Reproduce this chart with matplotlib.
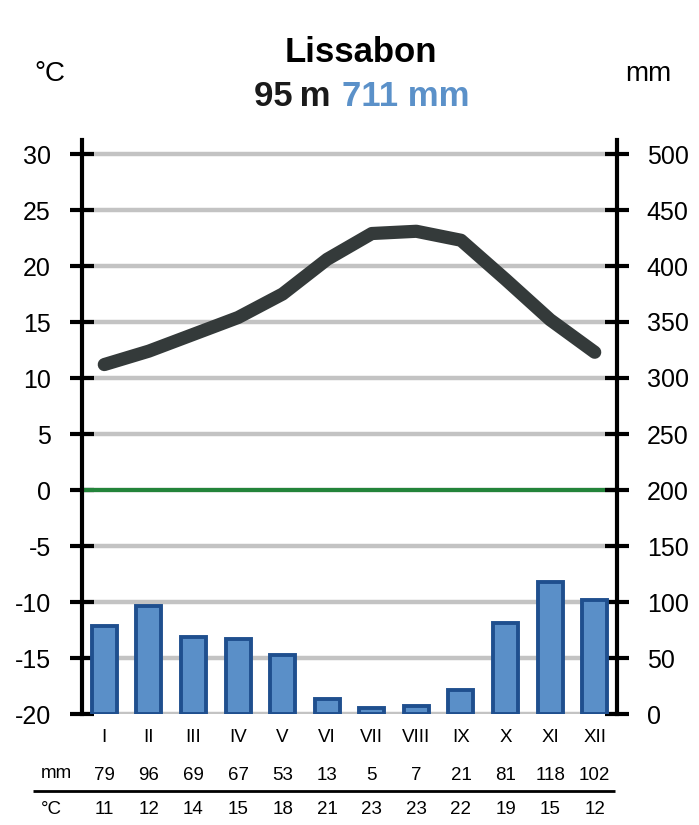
import numpy as np
import matplotlib
matplotlib.use("Agg")
import matplotlib.pyplot as plt
import matplotlib.transforms as mtransforms

plt.rcParams["font.family"] = ["Liberation Sans", "DejaVu Sans"]

# data
months = ["I", "II", "III", "IV", "V", "VI", "VII", "VIII", "IX", "X", "XI", "XII"]
precip_mm = [79, 96, 69, 67, 53, 13, 5, 7, 21, 81, 118, 102]
temp_c = [11.2, 12.4, 13.9, 15.4, 17.5, 20.6, 22.9, 23.1, 22.3, 18.8, 15.2, 12.3]
temp_rounded = [11, 12, 14, 15, 18, 21, 23, 23, 22, 19, 15, 12]
temp_ticks = [-20, -15, -10, -5, 0, 5, 10, 15, 20, 25, 30]
mm_ticks = [0, 50, 100, 150, 200, 250, 300, 350, 400, 450, 500]

W, H = 699, 825
fig = plt.figure(figsize=(W / 100, H / 100), dpi=100)

def px(x, y):
    return x / W, 1 - y / H

# axes: left spine x=82, right x=617, -20 at y=714, spine top at y=140
ax = fig.add_axes([82 / W, 1 - 714 / H, (617 - 82) / W, (714 - 140) / H])
ax.set_xlim(-0.5, 11.5)
top = 30 + 14 / 11.2
ax.set_ylim(-20, top)
ax.set_yticks(temp_ticks)
ax.set_yticklabels([str(t) for t in temp_ticks], fontsize=18)
ax.grid(axis="y", color="#c3c3c3", linewidth=3.2, zorder=0)
ax.set_axisbelow(True)
ax.axhline(0, color="#23843a", linewidth=3, zorder=2)
ax.plot(range(12), temp_c, color="#343a3a", linewidth=9.5,
        solid_capstyle="round", solid_joinstyle="round", zorder=4)

for s in ["top", "bottom", "right"]:
    ax.spines[s].set_visible(False)
ax.spines["left"].set_linewidth(3)
ax.tick_params(axis="y", direction="inout", length=17, width=3, pad=14)
ax.set_xticks(range(12))
ax.set_xticklabels(months, fontsize=13.5)
ax.tick_params(axis="x", length=0, pad=11)

ax2 = ax.twinx()
ax2.set_ylim(0, top * 10 + 200)
ax2.set_yticks(mm_ticks)
ax2.set_yticklabels([str(t) for t in mm_ticks], fontsize=18)
ax2.bar(range(12), precip_mm, width=0.56, color="#5a8fc8", edgecolor="#1f4f8e",
        linewidth=2.8, zorder=3)
for s in ["top", "bottom", "left"]:
    ax2.spines[s].set_visible(False)
ax2.spines["right"].set_linewidth(3)
ax2.tick_params(axis="y", direction="inout", length=17, width=3, pad=13)

# table below the chart
trans = mtransforms.blended_transform_factory(ax.transData, fig.transFigure)
for i in range(12):
    fig.text(i, 1 - 775 / H, str(precip_mm[i]), transform=trans, ha="center",
             va="center", fontsize=13.5)
    fig.text(i, 1 - 810 / H, str(temp_rounded[i]), transform=trans, ha="center",
             va="center", fontsize=13.5)
fig.text(*px(56, 774), "mm", ha="center", va="center", fontsize=13.5)
fig.text(*px(51, 809), "°C", ha="center", va="center", fontsize=13.5)
slot = (617 - 82) / 12
x_left = -0.5 - (82 - 33) / slot
x_right = -0.5 + (615 - 82) / slot
ax.plot([x_left, x_right], [1 - 791 / H, 1 - 791 / H], transform=trans,
        color="black", linewidth=2, clip_on=False, solid_capstyle="butt")

# titles
fig.text(*px(361, 53), "Lissabon", ha="center", va="center", fontsize=25,
         fontweight="bold")
fig.text(*px(330, 97), "95\u2009m", ha="right", va="center", fontsize=25,
         fontweight="bold", color="#1a1a1a")
fig.text(*px(342, 97), "711 mm", ha="left", va="center", fontsize=25,
         fontweight="bold", color="#5b91c9")
fig.text(*px(50, 74), "°C", ha="center", va="center", fontsize=20)
fig.text(*px(648, 74), "mm", ha="center", va="center", fontsize=20)

fig.savefig("out.png", dpi=100)
